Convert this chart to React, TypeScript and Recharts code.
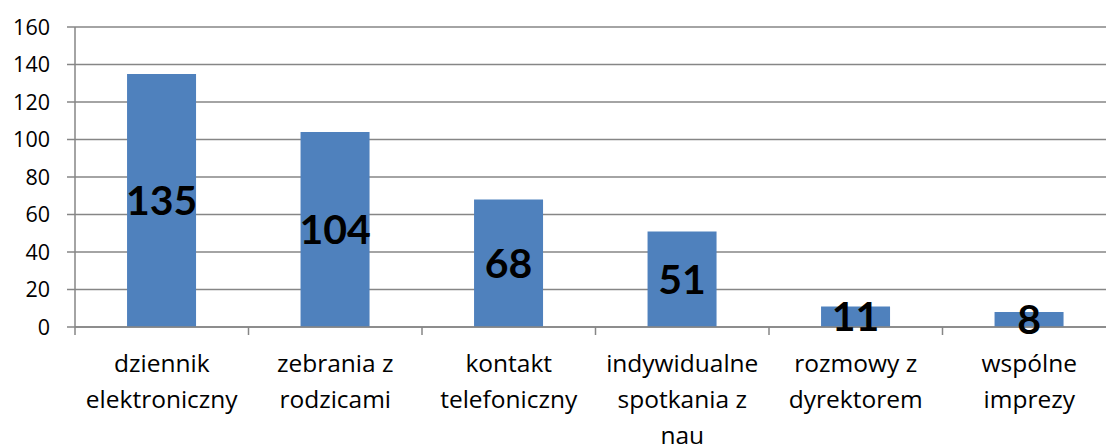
import React from "react";
import { BarChart, Bar, XAxis, YAxis, CartesianGrid, LabelList } from "recharts";

const categories = [
  "dziennik elektroniczny",
  "zebrania z rodzicami",
  "kontakt telefoniczny",
  "indywidualne spotkania z nau",
  "rozmowy z dyrektorem",
  "wspólne imprezy",
];
const values = [135, 104, 68, 51, 11, 8];
const tickLines = [
  ["dziennik", "elektroniczny"],
  ["zebrania z", "rodzicami"],
  ["kontakt", "telefoniczny"],
  ["indywidualne", "spotkania z", "nau"],
  ["rozmowy z", "dyrektorem"],
  ["wspólne", "imprezy"],
];
const yTicks = [0, 20, 40, 60, 80, 100, 120, 140, 160];

const data = categories.map((c, i) => ({ name: c, value: values[i] }));

const CHART_W = 1116;
const CHART_H = 446;
const Y_AXIS_W = 75;
const PLOT_W = CHART_W - Y_AXIS_W;
const STEP = PLOT_W / categories.length;
const GRID = "#868686";
const FONT = "'Open Sans', Lato, sans-serif";
const BOLD_FONT = "Lato, 'Open Sans', sans-serif";

const CategoryTick = (props: any) => {
  const { x, y, payload, index } = props;
  const idx = payload && typeof payload.index === "number" ? payload.index : index;
  const lines = tickLines[idx] || [String(payload.value)];
  const left = x - STEP / 2;
  const right = x + STEP / 2;
  return (
    <g>
      <line x1={left} x2={left} y1={y} y2={y + 8} stroke={GRID} strokeWidth={1.5} />
      {idx === categories.length - 1 && (
        <line x1={right} x2={right} y1={y} y2={y + 8} stroke={GRID} strokeWidth={1.5} />
      )}
      <text x={x} y={y} textAnchor="middle" fill="#000" fontSize={24.5} fontFamily={FONT}>
        {lines.map((l: string, i: number) => (
          <tspan key={i} x={x} y={y + 45 + i * 36}>
            {l}
          </tspan>
        ))}
      </text>
    </g>
  );
};

export default function App() {
  return (
    <div style={{ position: "absolute", left: 0, top: 0, width: 1106, height: 446, overflow: "hidden", background: "#fff" }}>
      <BarChart
        width={CHART_W}
        height={CHART_H}
        data={data}
        margin={{ top: 27, right: 0, left: 0, bottom: 0 }}
        barCategoryGap="30%"
      >
        <CartesianGrid vertical={false} stroke={GRID} strokeWidth={1.5} />
        <XAxis
          dataKey="name"
          height={119}
          interval={0}
          tickLine={false}
          tickSize={0}
          tickMargin={0}
          axisLine={{ stroke: GRID, strokeWidth: 1.5 }}
          tick={<CategoryTick />}
        />
        <YAxis
          width={Y_AXIS_W}
          domain={[0, 160]}
          ticks={yTicks}
          interval={0}
          tickSize={8}
          tickMargin={17}
          tickLine={{ stroke: GRID, strokeWidth: 1.5 }}
          axisLine={{ stroke: GRID, strokeWidth: 1.5 }}
          tick={{ fill: "#000", fontSize: 21.5, fontFamily: FONT }}
        />
        <Bar dataKey="value" fill="#4F81BD" isAnimationActive={false}>
          <LabelList
            dataKey="value"
            position="center"
            fill="#000"
            fontSize={41}
            fontWeight="bold"
            fontFamily={BOLD_FONT}
          />
        </Bar>
      </BarChart>
    </div>
  );
}
